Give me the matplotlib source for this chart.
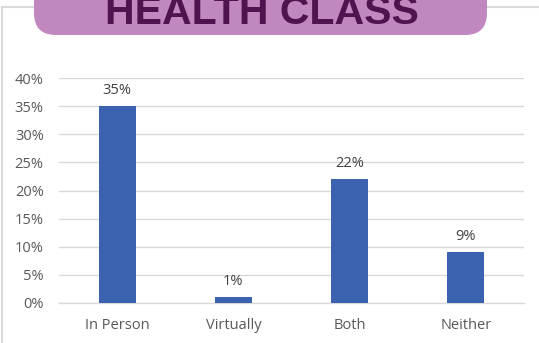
import matplotlib
matplotlib.use("Agg")
import matplotlib.pyplot as plt
from matplotlib.patches import FancyBboxPatch, Rectangle
from matplotlib.ticker import PercentFormatter

categories = ["In Person", "Virtually", "Both", "Neither"]
values = [35, 1, 22, 9]
title = "HEALTH CLASS"

W, H = 539, 343
fig = plt.figure(figsize=(W / 100, H / 100), dpi=100)
plt.rcParams["font.family"] = ["Open Sans", "DejaVu Sans"]

def fx(px):
    return px / W

def fy(py):
    return (H - py) / H

# outer chart frame
fig.patches.append(Rectangle((fx(1.5), fy(345)), fx(545), fy(7) - fy(345),
                             transform=fig.transFigure, fill=False,
                             edgecolor="#D9D9D9", linewidth=1.5, zorder=1))

# title banner
banner = FancyBboxPatch((34, H - 35), 453, 60,
                        boxstyle="round,pad=0,rounding_size=22",
                        transform=None, facecolor="#C088BF",
                        edgecolor="none", zorder=2)
fig.patches.append(banner)
fig.text(fx(262), fy(24.5), title, ha="center", va="baseline",
         fontsize=29.5, fontweight="bold", color="#4F1450",
         family=["Liberation Sans", "DejaVu Sans"], zorder=3)

ax = fig.add_axes([fx(59), fy(303), fx(524) - fx(59), fy(78) - fy(303)])
x = range(len(categories))
bars = ax.bar(x, values, width=0.32, color="#3A62AE", zorder=3)
for b, v in zip(bars, values):
    ax.annotate(f"{v}%", (b.get_x() + b.get_width() / 2, v),
                xytext=(0, 6), textcoords="offset points",
                ha="center", va="bottom", fontsize=10.5, color="#404040")

ax.set_xlim(-0.5, len(categories) - 0.5)
ax.set_ylim(0, 40)
ax.set_yticks(range(0, 41, 5))
ax.yaxis.set_major_formatter(PercentFormatter(decimals=0))
ax.set_xticks(list(x))
ax.set_xticklabels(categories)
ax.grid(axis="y", color="#D9D9D9", linewidth=1, zorder=0)
for name, s in ax.spines.items():
    s.set_visible(name == "bottom")
ax.spines["bottom"].set_color("#D9D9D9")
ax.spines["bottom"].set_linewidth(1)
ax.tick_params(axis="both", length=0, labelsize=10.5, labelcolor="#595959")
ax.tick_params(axis="y", pad=11)
ax.tick_params(axis="x", pad=11)

fig.savefig("out.png", dpi=100)
